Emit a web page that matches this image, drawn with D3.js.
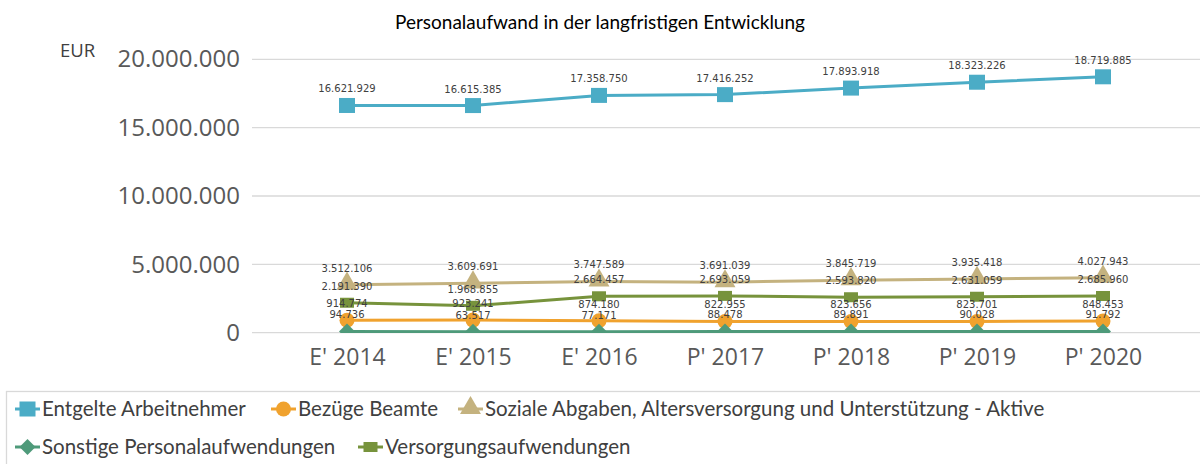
<!DOCTYPE html>
<html>
<head>
<meta charset="utf-8">
<script src="https://cdn.jsdelivr.net/npm/d3@7"></script>
<style>
  body { margin: 0; background: #fff; }
  svg { display: block; }
</style>
</head>
<body>
<div id="chart"></div>
<script>
// Data
const years = ["E' 2014", "E' 2015", "E' 2016", "P' 2017", "P' 2018", "P' 2019", "P' 2020"];
const entgelte = [16621929, 16615385, 17358750, 17416252, 17893918, 18323226, 18719885];
const bezuege = [914774, 923241, 874180, 822955, 823656, 823701, 848453];
const soziale = [3512106, 3609691, 3747589, 3691039, 3845719, 3935418, 4027943];
const sonstige = [94736, 63517, 77171, 88478, 89891, 90028, 91792];
const versorgung = [2191390, 1968855, 2664457, 2693059, 2593820, 2631059, 2685960];
const yTicks = [0, 5000000, 10000000, 15000000, 20000000];

const series = [
    { name: "Entgelte Arbeitnehmer", values: entgelte, color: "#4bacc6", marker: "square" },
    { name: "Bezüge Beamte", values: bezuege, color: "#f0a22e", marker: "circle" },
    { name: "Soziale Abgaben, Altersversorgung und Unterstützung - Aktive", values: soziale, color: "#c4b27f", marker: "triangle" },
    { name: "Sonstige Personalaufwendungen", values: sonstige, color: "#4e9a7a", marker: "diamond" },
    { name: "Versorgungsaufwendungen", values: versorgung, color: "#77933c", marker: "rect" }
];

const W = 1200, H = 464;
const plot = { left: 252, right: 1200, top: 40, bottom: 333 };

const svg = d3.select("#chart").append("svg")
    .attr("width", W).attr("height", H);

// German number format
const de = d3.formatLocale({ decimal: ",", thousands: ".", grouping: [3], currency: ["", " €"] });
const fmt = de.format(",.0f");

const x = d3.scalePoint().domain(years).range([347, 1103]);
const y = d3.scaleLinear().domain([0, 20000000]).range([332.7, 59.3]);

// Title
svg.append("text")
    .attr("x", 600).attr("y", 29)
    .attr("text-anchor", "middle")
    .style("font-family", "Lato, 'Open Sans', sans-serif")
    .style("font-size", "19px")
    .attr("fill", "#000")
    .text("Personalaufwand in der langfristigen Entwicklung");

// Unit
svg.append("text")
    .attr("x", 60).attr("y", 57)
    .style("font-family", "'Open Sans', sans-serif")
    .style("font-size", "18.5px")
    .attr("fill", "#404040")
    .text("EUR");

// Gridlines
svg.append("g").selectAll("line").data(yTicks).join("line")
    .attr("x1", plot.left).attr("x2", plot.right)
    .attr("y1", d => y(d)).attr("y2", d => y(d))
    .attr("stroke", "#d9d9d9").attr("stroke-width", 1.3);

// Y axis labels
const yAxis = svg.append("g")
    .attr("transform", "translate(" + (plot.left - 12) + ",0)")
    .call(d3.axisLeft(y).tickValues(yTicks).tickFormat(fmt).tickSize(0).tickPadding(0));
yAxis.select(".domain").remove();
yAxis.selectAll("text")
    .style("font-family", "'Open Sans', sans-serif")
    .style("font-size", "24px")
    .attr("fill", "#595959");

// X axis labels
const xAxis = svg.append("g")
    .attr("transform", "translate(0," + (plot.bottom + 11) + ")")
    .call(d3.axisBottom(x).tickSize(0).tickPadding(0));
xAxis.select(".domain").remove();
xAxis.selectAll("text")
    .attr("dy", "0.9em")
    .style("font-family", "'Open Sans', sans-serif")
    .style("font-size", "23px")
    .attr("fill", "#595959");

// clip at plot area
svg.append("clipPath").attr("id", "clip")
    .append("rect").attr("x", 0).attr("y", 0).attr("width", W).attr("height", plot.bottom);

const line = d3.line()
    .x((d, i) => x(years[i]))
    .y(d => y(d));

function drawMarker(g, type, color, cx, cy) {
    if (type === "square") {
        g.append("rect").attr("x", cx - 8).attr("y", cy - 7.5).attr("width", 16).attr("height", 15).attr("fill", color);
    } else if (type === "rect") {
        g.append("rect").attr("x", cx - 7).attr("y", cy - 5).attr("width", 14).attr("height", 10).attr("fill", color);
    } else if (type === "circle") {
        g.append("circle").attr("cx", cx).attr("cy", cy).attr("r", 7.5).attr("fill", color);
    } else if (type === "triangle") {
        g.append("path").attr("d", d3.symbol(d3.symbolTriangle, 190)()).attr("transform", "translate(" + cx + "," + (cy - 1) + ")").attr("fill", color);
    } else if (type === "diamond") {
        g.append("path").attr("d", "M0,-8L8,0L0,8L-8,0Z").attr("transform", "translate(" + cx + "," + cy + ")").attr("fill", color);
    }
}

const lines = svg.append("g").attr("clip-path", "url(#clip)");
series.forEach(s => {
    const g = lines.append("g");
    g.append("path")
        .datum(s.values)
        .attr("d", line)
        .attr("fill", "none")
        .attr("stroke", s.color)
        .attr("stroke-width", 3);
    s.values.forEach((v, i) => drawMarker(g, s.marker, s.color, x(years[i]), y(v)));
});

// Data labels
const labels = svg.append("g");
series.forEach(s => {
    labels.selectAll(null).data(s.values).join("text")
        .attr("x", (d, i) => x(years[i]))
        .attr("y", d => y(d) - 13)
        .attr("text-anchor", "middle")
        .style("font-family", "'DejaVu Sans', Verdana, sans-serif")
        .style("font-size", "10px")
        .attr("fill", "#404040")
        .text(d => fmt(d));
});

// Legend
svg.append("rect")
    .attr("x", 6.5).attr("y", 391.5).attr("width", 1300).attr("height", 100)
    .attr("fill", "none").attr("stroke", "#d9d9d9").attr("stroke-width", 1.3);

const legendPos = [
    { x: 15, y: 409 }, { x: 271, y: 409 }, { x: 458, y: 409 },
    { x: 15, y: 447 }, { x: 358, y: 447 }
];
series.forEach((s, i) => {
    const p = legendPos[i];
    const g = svg.append("g");
    g.append("line").attr("x1", p.x).attr("x2", p.x + 25).attr("y1", p.y).attr("y2", p.y)
        .attr("stroke", s.color).attr("stroke-width", 3);
    drawMarker(g, s.marker, s.color, p.x + 12.5, p.y);
    g.append("text")
        .attr("x", p.x + 27).attr("y", p.y + 7)
        .style("font-family", "Lato, sans-serif")
        .style("font-size", "20.5px")
        .attr("fill", "#404040")
        .text(s.name);
});
</script>
</body>
</html>
